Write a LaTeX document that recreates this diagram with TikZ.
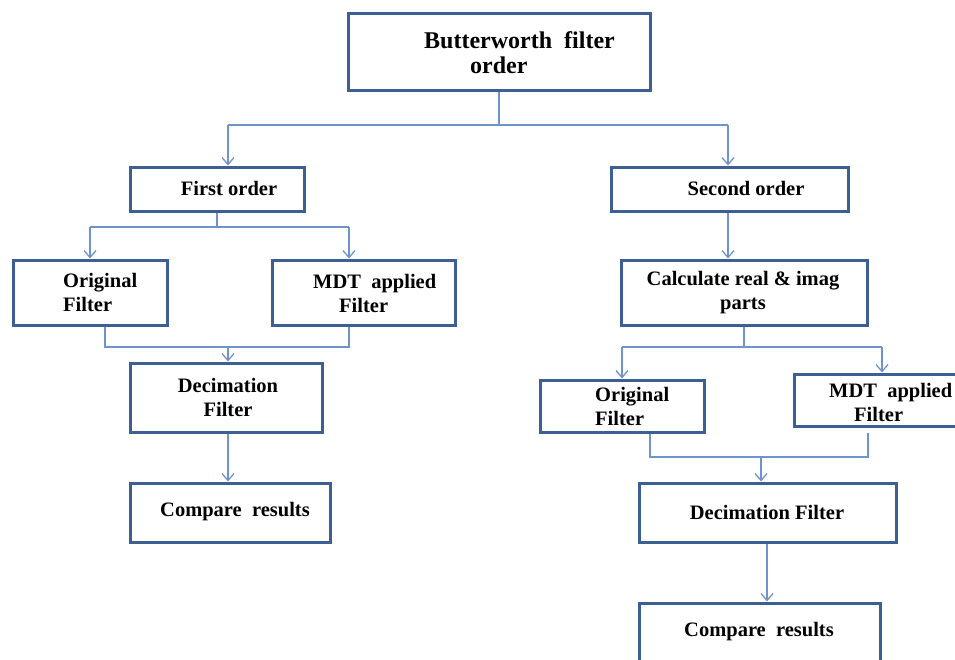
\documentclass[tikz,border=0pt]{standalone}
\usepackage{fontspec}
\setmainfont{Liberation Serif}
\usetikzlibrary{arrows.meta}
\definecolor{boxblue}{HTML}{3E5F94}
\definecolor{linkblue}{HTML}{6F93CB}
\begin{document}
\begin{tikzpicture}[x=1pt,y=-1pt,
  box/.style={draw=boxblue,line width=3pt,fill=white,rectangle,inner sep=0pt},
  txt/.style={inner sep=0pt,align=left,font=\fontsize{20.5}{24}\selectfont\bfseries},
  conn/.style={draw=linkblue,line width=1.4pt},
  arr/.style={conn,-{Straight Barb[length=7pt,width=12pt,line width=1.3pt]}}]
\useasboundingbox (0,0) rectangle (955,659);
\fill[white] (0,0) rectangle (955,659);
% boxes
\node[box,minimum width=302pt,minimum height=77pt] (top) at (499,51.5) {};
\node[box,minimum width=174pt,minimum height=44pt] (fo) at (217,189) {};
\node[box,minimum width=237pt,minimum height=44pt] (so) at (729.5,189) {};
\node[box,minimum width=154pt,minimum height=65pt] (of1) at (90,292.5) {};
\node[box,minimum width=183pt,minimum height=65pt] (md1) at (363.5,292.5) {};
\node[box,minimum width=192pt,minimum height=69pt] (de1) at (226,397.5) {};
\node[box,minimum width=200pt,minimum height=59pt] (cr1) at (230,512.5) {};
\node[box,minimum width=246pt,minimum height=65pt] (ca) at (744,292.5) {};
\node[box,minimum width=164pt,minimum height=52pt] (of2) at (622,406) {};
\node[box,minimum width=176pt,minimum height=52pt] (md2) at (882,400) {};
\node[box,minimum width=257pt,minimum height=59pt] (de2) at (767.5,512.5) {};
\node[box,minimum width=241pt,minimum height=76pt] (cr2) at (759.5,641) {};
% texts
\node[txt,anchor=west,font=\fontsize{24}{25}\selectfont\bfseries] (topt) at (424,53) {Butterworth\ \ filter\\\hspace*{46pt}order};
\node[txt] (fot) at (229,188) {First order};
\node[txt] (sot) at (746,188) {Second order};
\node[txt,anchor=west] (of1t) at (63,292) {Original\\Filter};
\node[txt,anchor=west] (md1t) at (313,293) {MDT\ \ applied\\\hspace*{26pt}Filter};
\node[txt,align=center] (de1t) at (228,397) {Decimation\\Filter};
\node[txt] (cr1t) at (235,512) {Compare\ \ results};
\node[txt,align=center] (cat) at (743,293) {Calculate real \& imag\\parts};
\node[txt,anchor=west] (of2t) at (595,406) {Original\\Filter};
\node[txt,anchor=west] (md2t) at (829,402) {MDT\ \ applied\\\hspace*{25pt}Filter};
\node[txt] (de2t) at (767,512) {Decimation Filter};
\node[txt] (cr2t) at (759,632) {Compare\ \ results};
% junctions
\coordinate (j1) at (499,125);
\coordinate (j1l) at (228,125);
\coordinate (j1r) at (728,125);
\coordinate (j2) at (217,227);
\coordinate (j2l) at (90,227);
\coordinate (j2r) at (349,227);
\coordinate (j3l) at (105,347);
\coordinate (j3r) at (349,347);
\coordinate (j3) at (228,347);
\coordinate (j4) at (744,347);
\coordinate (j4l) at (622,347);
\coordinate (j4r) at (882,347);
\coordinate (j5l) at (650,457);
\coordinate (j5r) at (868,457);
\coordinate (j5) at (761,457);
\coordinate (m2s) at (868,433);
% connectors
\draw[conn] (top.south) -- (j1);
\draw[conn] (j1l) -- (j1r);
\draw[arr] (j1l) -- (j1l |- fo.north);
\draw[arr] (j1r) -- (j1r |- so.north);
\draw[conn] (fo.south) -- (j2);
\draw[conn] (j2l) -- (j2r);
\draw[arr] (j2l) -- (of1.north);
\draw[arr] (j2r) -- (j2r |- md1.north);
\draw[conn] (j3l |- of1.south) -- (j3l) -- (j3r) -- (j3r |- md1.south);
\draw[arr] (j3) -- (j3 |- de1.north);
\draw[arr] (j3 |- de1.south) -- (j3 |- cr1.north);
\draw[arr] (j1r |- so.south) -- (j1r |- ca.north);
\draw[conn] (ca.south) -- (j4);
\draw[conn] (j4l) -- (j4r);
\draw[arr] (j4l) -- (j4l |- of2.north);
\draw[arr] (j4r) -- (j4r |- md2.north);
\draw[conn] (j5l |- of2.south) -- (j5l) -- (j5r) -- (m2s);
\draw[arr] (j5) -- (j5 |- de2.north);
\draw[arr] (de2.south -| 767,0) -- (cr2.north -| 767,0);
\end{tikzpicture}
\end{document}
